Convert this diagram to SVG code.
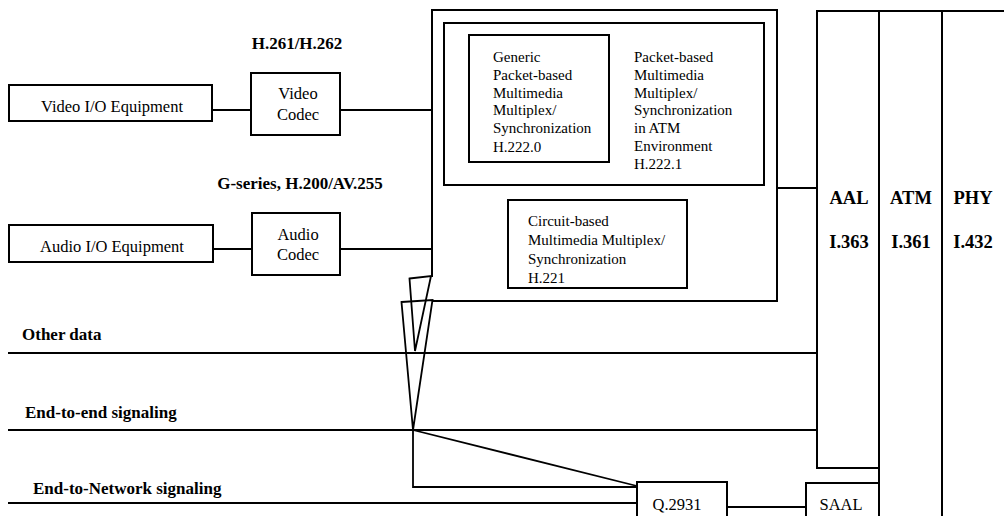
<svg xmlns="http://www.w3.org/2000/svg" width="1004" height="516" viewBox="0 0 1004 516">
<style>
.bx{fill:none;stroke:#000;stroke-width:2}
.ln{fill:none;stroke:#000;stroke-width:1.8}
.t{font-family:"Liberation Serif",serif;fill:#000}
.r15{font-size:15px}
.r16{font-size:16.5px}
.b17{font-size:17px;font-weight:bold}
.b18{font-size:18.5px;font-weight:bold}
</style>
<rect width="1004" height="516" fill="#fff"/>
<g id="connectors">
<line class="ln" x1="212" y1="110" x2="251" y2="110"/>
<line class="ln" x1="340" y1="110" x2="432" y2="110"/>
<line class="ln" x1="213" y1="249" x2="252" y2="249"/>
<line class="ln" x1="340" y1="249" x2="432" y2="249"/>
<line class="ln" x1="777" y1="188" x2="817" y2="188"/>
<line class="ln" x1="8" y1="353" x2="817" y2="353"/>
<line class="ln" x1="8" y1="430" x2="817" y2="430"/>
<line class="ln" x1="8" y1="503" x2="637" y2="503"/>
<line class="ln" x1="727" y1="507" x2="806" y2="507"/>
<polygon class="ln" points="409.5,278.5 431,276 415,351"/>
<polygon class="ln" points="401.5,302 432.5,300 413,430"/>
<polyline class="ln" points="413,430 413,487 637,487"/>
<line class="ln" x1="413" y1="430" x2="637" y2="486"/>
</g>
<g id="video-io"><rect class="bx" x="9" y="85" width="203" height="36"/><text class="t r16" x="112" y="111.5" text-anchor="middle">Video I/O Equipment</text></g>
<g id="video-codec"><rect class="bx" x="251" y="73" width="89" height="62"/><text class="t r16" x="298" y="98.5" text-anchor="middle">Video</text><text class="t r16" x="298" y="119.5" text-anchor="middle">Codec</text></g>
<g id="video-std"><text class="t b17" x="297" y="48.5" text-anchor="middle">H.261/H.262</text></g>
<g id="audio-io"><rect class="bx" x="9" y="225" width="204" height="37"/><text class="t r16" x="112" y="251.5" text-anchor="middle">Audio I/O Equipment</text></g>
<g id="audio-codec"><rect class="bx" x="252" y="213" width="88" height="62"/><text class="t r16" x="298" y="239.5" text-anchor="middle">Audio</text><text class="t r16" x="298" y="259.5" text-anchor="middle">Codec</text></g>
<g id="audio-std"><text class="t b17" x="300" y="188.5" text-anchor="middle">G-series, H.200/AV.255</text></g>
<g id="mux">
<polyline class="bx" points="432,277 432,10 777,10 777,301 432,301"/>
<rect class="bx" x="444" y="23" width="320" height="162"/>
</g>
<g id="generic">
<rect class="bx" x="469" y="35" width="140" height="127"/>
<text class="t r15" x="493"><tspan x="493" y="62">Generic</tspan><tspan x="493" y="80">Packet-based</tspan><tspan x="493" y="97.5">Multimedia</tspan><tspan x="493" y="115">Multiplex/</tspan><tspan x="493" y="133">Synchronization</tspan><tspan x="493" y="151.5">H.222.0</tspan></text>
</g>
<g id="atm-mux">
<text class="t r15" x="634"><tspan x="634" y="62">Packet-based</tspan><tspan x="634" y="79.7">Multimedia</tspan><tspan x="634" y="97.5">Multiplex/</tspan><tspan x="634" y="115.2">Synchronization</tspan><tspan x="634" y="133">in ATM</tspan><tspan x="634" y="150.7">Environment</tspan><tspan x="634" y="168.5">H.222.1</tspan></text>
</g>
<g id="circuit">
<rect class="bx" x="508" y="200" width="179" height="88"/>
<text class="t r15" x="528"><tspan x="528" y="226">Circuit-based</tspan><tspan x="528" y="245">Multimedia Multiplex/</tspan><tspan x="528" y="264">Synchronization</tspan><tspan x="528" y="282.5">H.221</tspan></text>
</g>
<g id="labels">
<text class="t b17" x="22" y="340">Other data</text>
<text class="t b17" x="25" y="418">End-to-end signaling</text>
<text class="t b17" x="33" y="494">End-to-Network signaling</text>
</g>
<g id="aal"><rect class="bx" x="817" y="11" width="62" height="457"/><text class="t b18" x="849" y="203.5" text-anchor="middle">AAL</text><text class="t b18" x="849" y="248" text-anchor="middle">I.363</text></g>
<g id="atm"><polyline class="bx" points="879,516 879,11 942,11 942,516"/><text class="t b18" x="911" y="203.5" text-anchor="middle">ATM</text><text class="t b18" x="911" y="248" text-anchor="middle">I.361</text></g>
<g id="phy"><polyline class="bx" points="942,11 1004,11"/><text class="t b18" x="973" y="203.5" text-anchor="middle">PHY</text><text class="t b18" x="973" y="248" text-anchor="middle">I.432</text></g>
<g id="q2931"><polyline class="bx" points="637,516 637,482 727,482 727,516"/><text class="t r16" x="677" y="510" text-anchor="middle">Q.2931</text></g>
<g id="saal"><polyline class="bx" points="806,516 806,483 879,483"/><text class="t r16" x="841" y="510" text-anchor="middle">SAAL</text></g>
</svg>
